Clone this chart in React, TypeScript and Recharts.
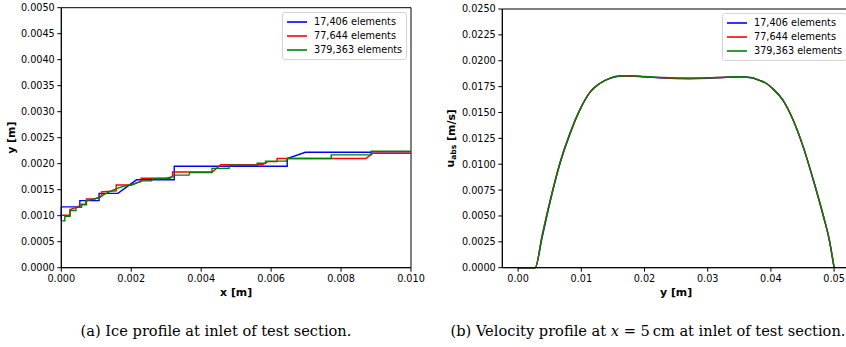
import React from 'react'
import {
  LineChart,
  Line,
  XAxis,
  YAxis,
  Legend,
  Label,
  ReferenceArea,
} from 'recharts'

const SERIES_NAMES = ['17,406 elements', '77,644 elements', '379,363 elements']
const SERIES_COLORS = ['#0000ff', '#ff0000', '#008000']

// (a) ice profile: x [m] -> y [m]
const ICE_X_TICKS = [0, 0.002, 0.004, 0.006, 0.008, 0.01]
const ICE_Y_TICKS = [0, 0.0005, 0.001, 0.0015, 0.002, 0.0025, 0.003, 0.0035, 0.004, 0.0045, 0.005]

const ICE_17K_X = [0, 0, 0.00053, 0.00053, 0.00108, 0.00108, 0.00162, 0.00215, 0.00323, 0.00323, 0.00646, 0.00646, 0.00698, 0.00886, 0.00886, 0.01]
const ICE_17K_Y = [0.00091, 0.00117, 0.00117, 0.00129, 0.00129, 0.00143, 0.00143, 0.00169, 0.00169, 0.00195, 0.00195, 0.0021, 0.00222, 0.00222, 0.0022, 0.0022]

const ICE_77K_X = [0, 0.00025, 0.00025, 0.00044, 0.00058, 0.00072, 0.00072, 0.00096, 0.00115, 0.00115, 0.00157, 0.00157, 0.002, 0.00215, 0.00228, 0.00228, 0.003, 0.00318, 0.00318, 0.00432, 0.00456, 0.00575, 0.00591, 0.00617, 0.00617, 0.00871, 0.00891, 0.01]
const ICE_77K_Y = [0.00101, 0.00101, 0.00112, 0.00116, 0.00121, 0.00121, 0.00132, 0.00132, 0.00138, 0.00146, 0.00148, 0.00159, 0.00159, 0.00163, 0.00166, 0.00172, 0.00172, 0.00175, 0.00184, 0.00184, 0.00198, 0.00198, 0.00204, 0.00204, 0.0021, 0.0021, 0.0022, 0.0022]

const ICE_379K_X = [0, 0.0001, 0.0001, 0.00025, 0.00025, 0.00042, 0.00042, 0.00058, 0.00058, 0.0007, 0.0007, 0.0009, 0.0011, 0.0012, 0.00134, 0.00148, 0.00162, 0.0018, 0.00205, 0.0022, 0.00232, 0.00258, 0.00263, 0.00311, 0.00323, 0.00365, 0.00367, 0.00431, 0.00431, 0.0048, 0.0048, 0.0056, 0.0056, 0.00584, 0.00584, 0.00643, 0.00646, 0.00772, 0.00772, 0.00886, 0.00886, 0.01]
const ICE_379K_Y = [0.0009, 0.0009, 0.00099, 0.00099, 0.0011, 0.0011, 0.00116, 0.00116, 0.00122, 0.00122, 0.00128, 0.00132, 0.00135, 0.0014, 0.00145, 0.00149, 0.00153, 0.00157, 0.0016, 0.00164, 0.00167, 0.00167, 0.00171, 0.00172, 0.00178, 0.00178, 0.00183, 0.00183, 0.00191, 0.00191, 0.00197, 0.00197, 0.00201, 0.00201, 0.00205, 0.00205, 0.0021, 0.0021, 0.00217, 0.00217, 0.00224, 0.00224]

// (b) velocity profile: y [m] -> u_abs [m/s]
const VEL_X_TICKS = [0, 0.01, 0.02, 0.03, 0.04, 0.05]
const VEL_Y_TICKS = [0, 0.0025, 0.005, 0.0075, 0.01, 0.0125, 0.015, 0.0175, 0.02, 0.0225, 0.025]

const VEL_POS = [0, 0.001, 0.002, 0.0027, 0.0038, 0.005, 0.0066, 0.0082, 0.0098, 0.0113, 0.0129, 0.0145, 0.0161, 0.0175, 0.02, 0.023, 0.027, 0.03, 0.033, 0.0351, 0.037, 0.0382, 0.0393, 0.0403, 0.0419, 0.0435, 0.0451, 0.0467, 0.0483, 0.0492, 0.05]
const VEL_17K = [0, 0, 0, 0, 0.0029, 0.0062, 0.01, 0.0129, 0.0153, 0.0169, 0.0178, 0.0183, 0.01853, 0.01853, 0.01844, 0.01832, 0.01826, 0.0183, 0.0184, 0.01844, 0.01835, 0.0181, 0.0178, 0.0173, 0.0162, 0.0143, 0.0117, 0.0085, 0.005, 0.0028, 0]
const VEL_77K = [0, 0, 0, 0, 0.0031, 0.0063, 0.0101, 0.013, 0.0153, 0.0169, 0.0178, 0.0183, 0.01851, 0.01853, 0.01846, 0.01836, 0.01831, 0.01834, 0.01841, 0.01844, 0.01834, 0.0181, 0.0178, 0.0173, 0.0162, 0.0143, 0.0117, 0.0085, 0.005, 0.0028, 0]
const VEL_379K = [0, 0, 0, 0, 0.0031, 0.0063, 0.0101, 0.013, 0.0153, 0.0169, 0.0178, 0.0183, 0.01852, 0.01855, 0.01848, 0.01838, 0.01832, 0.01835, 0.01842, 0.01845, 0.01835, 0.0181, 0.0178, 0.0173, 0.0162, 0.0143, 0.0117, 0.0085, 0.005, 0.0028, 0]

const toPoints = (xs: number[], ys: number[]) => xs.map((x, i) => ({ x, y: ys[i] }))

const iceSeries = [
  toPoints(ICE_17K_X, ICE_17K_Y),
  toPoints(ICE_77K_X, ICE_77K_Y),
  toPoints(ICE_379K_X, ICE_379K_Y),
]

const velData = VEL_POS.map((pos, i) => ({
  pos,
  s0: VEL_17K[i],
  s1: VEL_77K[i],
  s2: VEL_379K[i],
}))

const FONT = 'DejaVu Sans'
const tickStyle = { fontSize: 9.7, fill: '#000', fontFamily: FONT }
const labelStyle = { fontSize: 10.9, fontWeight: 'bold' as const, fill: '#000', fontFamily: FONT }

// matplotlib-like framed legend, always in series order
const FrameLegend = () => (
  <div
    style={{
      border: '1px solid #d4d4d4',
      borderRadius: 3,
      background: 'rgba(255,255,255,0.8)',
      padding: '2px 4px',
      fontFamily: FONT,
      fontSize: 9.7,
      color: '#000',
    }}
  >
    {SERIES_NAMES.map((name, i) => (
      <div key={name} style={{ display: 'flex', alignItems: 'center', height: 14 }}>
        <svg width={20} height={6} style={{ marginRight: 7, display: 'block' }}>
          <line x1={0} y1={3} x2={20} y2={3} stroke={SERIES_COLORS[i]} strokeWidth={1.6} />
        </svg>
        <span style={{ whiteSpace: 'nowrap', lineHeight: '14px' }}>{name}</span>
      </div>
    ))}
  </div>
)

// rotated y-axis title, placed dx px from the left of the axis area
const yTitle = (dx: number, main: string, sub?: string, rest?: string) => (props: any) => {
  const { viewBox } = props
  const cx = viewBox.x + dx
  const cy = viewBox.y + viewBox.height / 2
  return (
    <text
      x={cx}
      y={cy}
      transform={`rotate(-90 ${cx} ${cy})`}
      textAnchor="middle"
      dominantBaseline="central"
      style={labelStyle}
    >
      {main}
      {sub && (
        <tspan fontSize={7.6} dy={2.5}>
          {sub}
        </tspan>
      )}
      {rest && <tspan dy={sub ? -2.5 : 0}>{rest}</tspan>}
    </text>
  )
}

function IceChart() {
  return (
    <LineChart width={432} height={300} margin={{ top: 7.7, right: 21, left: 0, bottom: 0 }}>
      <XAxis
        type="number"
        dataKey="x"
        domain={[0, 0.01]}
        ticks={ICE_X_TICKS}
        interval={0}
        tickFormatter={(v: number) => v.toFixed(3)}
        tick={tickStyle}
        tickSize={4}
        tickMargin={3}
        height={32.3}
        stroke="#000"
      >
        <Label value="x [m]" position="insideBottom" offset={4} style={labelStyle} />
      </XAxis>
      <YAxis
        type="number"
        dataKey="y"
        domain={[0, 0.005]}
        ticks={ICE_Y_TICKS}
        interval={0}
        tickFormatter={(v: number) => v.toFixed(4)}
        tick={tickStyle}
        tickSize={4}
        tickMargin={2.5}
        width={61.3}
        stroke="#000"
        label={{ content: yTitle(12, 'y [m]') }}
      />
      <ReferenceArea x1={0} x2={0.01} y1={0} y2={0.005} fill="none" stroke="#000" strokeWidth={1} />
      {iceSeries.map((pts, i) => (
        <Line
          key={SERIES_NAMES[i]}
          data={pts}
          dataKey="y"
          name={SERIES_NAMES[i]}
          type="linear"
          stroke={SERIES_COLORS[i]}
          strokeWidth={1.4}
          dot={false}
          isAnimationActive={false}
        />
      ))}
      <Legend
        layout="vertical"
        verticalAlign="middle"
        align="center"
        content={<FrameLegend />}
        wrapperStyle={{ left: 282, top: 12, width: 'auto' }}
      />
    </LineChart>
  )
}

function VelocityChart() {
  return (
    <LineChart
      width={440}
      height={300}
      data={velData}
      margin={{ top: 9, right: 10.1, left: 0, bottom: 0 }}
    >
      <XAxis
        type="number"
        dataKey="pos"
        domain={[-0.0025, 0.0525]}
        ticks={VEL_X_TICKS}
        interval={0}
        tickFormatter={(v: number) => v.toFixed(2)}
        tick={tickStyle}
        tickSize={4}
        tickMargin={3}
        height={32.3}
        stroke="#000"
      >
        <Label value="y [m]" position="insideBottom" offset={4} style={labelStyle} />
      </XAxis>
      <YAxis
        type="number"
        domain={[0, 0.025]}
        ticks={VEL_Y_TICKS}
        interval={0}
        tickFormatter={(v: number) => v.toFixed(4)}
        tick={tickStyle}
        tickSize={4}
        tickMargin={2.5}
        width={82.3}
        stroke="#000"
        label={{ content: yTitle(31, 'u', 'abs', ' [m/s]') }}
      />
      <ReferenceArea x1={-0.0025} x2={0.0525} y1={0} y2={0.025} fill="none" stroke="#000" strokeWidth={1} />
      {['s0', 's1', 's2'].map((key, i) => (
        <Line
          key={key}
          dataKey={key}
          name={SERIES_NAMES[i]}
          type="monotone"
          stroke={SERIES_COLORS[i]}
          strokeWidth={1.4}
          dot={false}
          isAnimationActive={false}
        />
      ))}
      <Legend
        layout="vertical"
        verticalAlign="middle"
        align="center"
        content={<FrameLegend />}
        wrapperStyle={{ left: 302, top: 13, width: 'auto' }}
      />
    </LineChart>
  )
}

const captionStyle: React.CSSProperties = {
  position: 'absolute',
  width: 460,
  textAlign: 'center',
  fontFamily: '"DejaVu Serif", serif',
  fontSize: 14.6,
  lineHeight: '17px',
  color: '#000',
  whiteSpace: 'nowrap',
}

export default function App() {
  return (
    <div
      style={{
        position: 'fixed',
        left: 0,
        top: 0,
        width: 846,
        height: 347,
        overflow: 'hidden',
        background: '#fff',
      }}
    >
      <div style={{ position: 'absolute', left: 0, top: 0 }}>
        <IceChart />
      </div>
      <div style={{ position: 'absolute', left: 420, top: 0 }}>
        <VelocityChart />
      </div>
      <div style={{ ...captionStyle, left: 216 - 230, top: 321.5 }}>
        (a) Ice profile at inlet of test section.
      </div>
      <div style={{ ...captionStyle, left: 648 - 230, top: 321.5 }}>
        (b) Velocity profile at <i>x</i> = 5{'\u2009'}cm at inlet of test section.
      </div>
    </div>
  )
}
